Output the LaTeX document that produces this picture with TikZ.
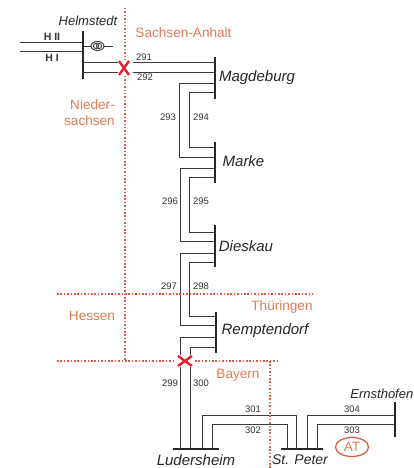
\documentclass[tikz,border=0pt]{standalone}
\usepackage{fontspec}
\setmainfont{Liberation Sans}
\usetikzlibrary{calc, shapes.geometric}
\definecolor{borderred}{HTML}{DC5F45}
\definecolor{crossred}{HTML}{E8202E}
\definecolor{regionor}{HTML}{DF7A58}
\definecolor{wirek}{HTML}{3A3A3A}
\tikzset{
    wire/.style={draw=wirek, line width=0.95pt},
    busbar/.style={draw=black!85, line width=2.1pt},
    border/.style={draw=borderred, line width=1.5pt, dash pattern=on 1.5pt off 1.9pt},
    crossmark/.style={draw=crossred, line width=2.4pt},
    region/.style={text=regionor, font=\fontsize{13.6}{16}\selectfont, inner sep=0pt},
    station/.style={text=black!85, font=\fontsize{15}{17}\selectfont\itshape, inner sep=0pt},
    circuit/.style={text=black!80, font=\fontsize{9.5}{11}\selectfont, inner sep=0pt}
}
\begin{document}
\begin{tikzpicture}[x=1pt, y=-1pt]
    \useasboundingbox (0,0) rectangle (414,468);

    % --- 1. busbars ---
    \coordinate (HelmT) at (83,31);   \coordinate (HelmB) at (83,79);
    \coordinate (MagdT) at (215,57);  \coordinate (MagdB) at (215,99);
    \coordinate (MarkT) at (215,142); \coordinate (MarkB) at (215,183);
    \coordinate (DiesT) at (215,225); \coordinate (DiesB) at (215,267);
    \coordinate (RempT) at (216,312); \coordinate (RempB) at (216,353);
    \coordinate (LudeL) at (173,449); \coordinate (LudeR) at (219,449);
    \coordinate (PeteL) at (281,449); \coordinate (PeteR) at (323,449);
    \coordinate (ErnsT) at (395,402); \coordinate (ErnsB) at (395,437);
    \foreach \a/\b in {HelmT/HelmB, MagdT/MagdB, MarkT/MarkB, DiesT/DiesB,
                       RempT/RempB, LudeL/LudeR, PeteL/PeteR, ErnsT/ErnsB}
        \draw[busbar] (\a) -- (\b);

    % --- 2. Helmstedt feeders ---
    \draw[wire] (20,42) -- (83,42);
    \draw[wire] (20,51) -- (83,51);
    \draw[wire] (83,46) -- (91,46);
    \draw[wire] (104,46) -- (113,46);
    \draw[wire] (97.5,46) ellipse (6.5 and 4.5);
    \draw[wire] (96,46) circle (2.6);
    \draw[wire] (99,46) circle (2.6);

    % --- 3. lines 291 to 298 ---
    \draw[wire] (83,62) -- (118,62) (133,62) -- (215,62);
    \draw[wire] (83,72) -- (118,72) (133,72) -- (215,72);
    \draw[wire] (215,83) -| (179,157) -- (215,157);
    \draw[wire] (215,92) -| (189,147) -- (215,147);
    \draw[wire] (215,168) -| (180,241) -- (215,241);
    \draw[wire] (215,177) -| (189,232) -- (215,232);
    \draw[wire] (215,253) -| (180,325) -- (216,325);
    \draw[wire] (215,262) -| (189,316) -- (216,316);

    % --- 4. lines 299 to 304 ---
    \draw[wire] (216,337) -| (180,355) (180,367) -- (180,449);
    \draw[wire] (216,347) -| (190,355) (190,367) -- (190,449);
    \draw[wire] (202,449) |- (296,415) -- (296,449);
    \draw[wire] (212,449) |- (287,424) -- (287,449);
    \draw[wire] (307,449) |- (395,415);
    \draw[wire] (317,449) |- (395,424);

    % --- 5. borders and crosses ---
    \draw[border] (125,8) -- (125,60) (125,76) -- (125,360);
    \draw[border] (57,294) -- (313,294);
    \draw[border] (57,361) -- (175,361) (195,361) -- (278,361);
    \draw[border] (270,361) -- (270,468);
    \draw[crossmark] (119,61) -- (129,75) (129,61) -- (119,75);
    \draw[crossmark] (178,356) -- (192,366) (192,356) -- (178,366);

    % --- 6. labels ---
    \node[station, font=\fontsize{13}{15}\selectfont\itshape] (helmstedt) at (88,21) {Helmstedt};
    \node[station] (magdeburg) at (257,78) {Magdeburg};
    \node[station] (marke) at (243.5,161) {Marke};
    \node[station] (dieskau) at (246,246) {Dieskau};
    \node[station] (remptendorf) at (265,331) {Remptendorf};
    \node[station] (ludersheim) at (196,460) {Ludersheim};
    \node[station, font=\fontsize{14}{16}\selectfont\itshape] (stpeter) at (300,460) {St. Peter};
    \node[station, anchor=east, font=\fontsize{13}{15}\selectfont\itshape] (ernsthofen) at (413.5,394) {Ernsthofen};

    \node[circuit, font=\fontsize{10.5}{12}\selectfont\bfseries] at (52,37) {H II};
    \node[circuit, font=\fontsize{10.5}{12}\selectfont\bfseries] at (52,58) {H I};
    \foreach \n/\x/\y in {291/144/57, 292/145/77, 293/168/117, 294/201/117,
                          296/170/201, 295/201/201, 297/169/286, 298/201/286,
                          299/170/383, 300/201/383, 301/253/409, 302/253/430,
                          304/352/409, 303/352/430}
        \node[circuit] (c\n) at (\x,\y) {\n};

    \node[region] (sachsenanhalt) at (183.5,33) {Sachsen-Anhalt};
    \node[region, align=right, anchor=east] (niedersachsen) at (115,113) {Nieder-\\sachsen};
    \node[region] (thueringen) at (282,307) {Thüringen};
    \node[region] (hessen) at (92,316) {Hessen};
    \node[region] (bayern) at (238,375) {Bayern};
    \node[region, draw=borderred, line width=1.3pt, ellipse, minimum width=33pt, minimum height=19pt] (at) at (352,447) {AT};
\end{tikzpicture}
\end{document}
